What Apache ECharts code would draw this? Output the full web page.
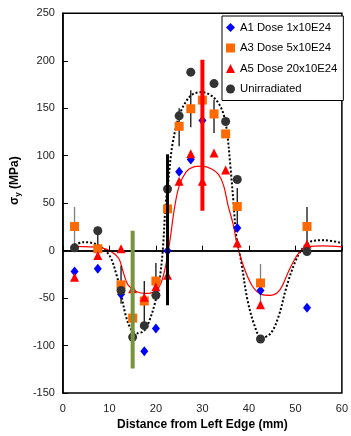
<!DOCTYPE html>
<html>
<head>
<meta charset="utf-8">
<script src="https://cdn.jsdelivr.net/npm/echarts@6/dist/echarts.min.js"></script>
<style>
  html, body { margin: 0; padding: 0; background: #fff; }
  #main { width: 351px; height: 436px; }
</style>
</head>
<body>
<div id="main"></div>
<script>
// measured points (mm, MPa)
const a1X = [2.5, 7.5, 12.5, 17.5, 20, 22.5, 25, 27.5, 30, 37.5, 42.5, 52.5];
const a1Y = [-22, -19, -46, -106, -82, 0, 83, 96, 137, 24, -42, -60];

const a3X = [2.5, 7.5, 12.5, 15, 17.5, 20, 22.5, 25, 27.5, 30, 32.5, 35, 37.5, 42.5, 52.5];
const a3Y = [25.5, 2, -36, -71, -53, -32, 44, 131, 149.5, 158.6, 144, 123, 46.5, -34, 25.5];

const a5X = [2.5, 7.5, 12.5, 15, 17.5, 20, 22.5, 25, 27.5, 30, 32.5, 35, 37.5, 42.5, 52.5];
const a5Y = [-28, -5, 2, -40, -49, -38, -26, 73, 102, 73, 103, 85, 8, -57, 7];

const uniX = [2.5, 7.5, 12.5, 15, 17.5, 20, 22.5, 25, 27.5, 32.5, 35, 37.5, 42.5, 52.5];
const uniY = [3, 21, -42, -91, -79, -47, 65, 142, 188, 176, 136, 75, -93, -1];

// fitted curves
const uniFitX = [2.5, 4.5, 7.5, 10, 11.5, 12.5, 13.5, 14.7, 16, 17.5, 18.5, 19.8, 20.8, 21.5, 22.1, 22.5, 23.5, 25, 26.6, 28, 30, 32, 33.5, 34.6, 35.3, 36, 36.7, 37.3, 38.3, 39.7, 41.3, 42.7, 44.7, 46.4, 48.1, 50.1, 51.8, 53.5, 56.2, 60];
const uniFitY = [6, 9, 6, -5, -25, -45, -68, -83, -87, -84, -75, -55, -30, 2, 50, 65, 110, 142, 158, 165, 167, 163, 155, 143, 125, 90, 50, 15, -10, -52, -80, -92, -87, -69, -38, -10, 4, 10, 11, 8];

const a5FitX = [2.5, 8.3, 10.4, 12, 13, 14, 15.8, 17.8, 19.8, 21.1, 22.1, 23, 24, 25, 26.5, 28, 30, 32, 33.5, 34.6, 35.5, 36.6, 37.5, 38.6, 40.7, 42.7, 44.7, 46.7, 48.7, 50.8, 52.8, 56, 60];
const a5FitY = [4.5, 3, -1, -8, -23, -36, -43, -45, -43, -34, -16, 10, 45, 68, 83, 88, 89, 86, 80, 68, 48, 28, 6, -13, -37, -46, -47, -41, -20, -2, 4, 5, 4];

// error bars: [x, low, high]
const errBlackX = [7.5, 12.5, 17.5, 20, 25, 27.5, 32.5, 37.5, 52.5];
const errBlackLo = [2, -56, -76, -47, 110, 130, 124, 24, 1];
const errBlackHi = [21, -16, -32, -13, 150, 169, 159, 66, 46];

const errGrayX = [2.5, 42.5];
const errGrayLo = [5, -57];
const errGrayHi = [46, -14];

const bigErrX = [15, 22.5, 30];
const bigErrLo = [-124, -57.5, 42];
const bigErrHi = [21, 101.5, 201];

const xTicks = [0, 10, 20, 30, 40, 50, 60];
const yTicks = [-150, -100, -50, 0, 50, 100, 150, 200, 250];

const bigErrColors = ['#77933c', '#000000', '#ff0000'];
const bigErrWidths = [4, 3, 4];

const pairs = (xs, ys) => xs.map((x, i) => [x, ys[i]]);
const triples = (xs, lo, hi) => xs.map((x, i) => [x, lo[i], hi[i]]);

const FONT = 'Liberation Sans, Arial, sans-serif';

const barItem = (colorFn, widthFn) => (params, api) => {
    const x = api.value(0);
    const p1 = api.coord([x, api.value(1)]);
    const p2 = api.coord([x, api.value(2)]);
    return {
        type: 'line',
        shape: { x1: p1[0], y1: p1[1], x2: p2[0], y2: p2[1] },
        style: { stroke: colorFn(params.dataIndex), lineWidth: widthFn(params.dataIndex) }
    };
};

var chartDom = document.getElementById('main');
var myChart = echarts.init(chartDom);

var option = {
    animation: false,
    grid: {
        left: 48.7,
        right: 5.3,
        top: 13.3,
        bottom: 41.7,
        show: true,
        borderColor: '#000',
        borderWidth: 1.5,
        backgroundColor: 'transparent'
    },
    legend: {
        orient: 'vertical',
        left: 222,
        top: 16,
        padding: [5, 6, 5, 4],
        backgroundColor: '#fff',
        borderColor: '#000',
        borderWidth: 1,
        itemWidth: 9,
        itemHeight: 9,
        itemGap: 7.5,
        itemTextGap: 3,
        textStyle: { fontFamily: FONT, fontSize: 11.3, color: '#000', lineHeight: 13 },
        data: [
            { name: 'A1 Dose 1x10E24', icon: 'diamond' },
            { name: 'A3 Dose 5x10E24', icon: 'rect' },
            { name: 'A5 Dose 20x10E24', icon: 'triangle' },
            { name: 'Unirradiated', icon: 'circle' }
        ]
    },
    xAxis: {
        type: 'value',
        min: xTicks[0],
        max: xTicks[xTicks.length - 1],
        interval: 10,
        name: 'Distance from Left Edge (mm)',
        nameLocation: 'middle',
        nameGap: 24,
        nameTextStyle: { fontFamily: FONT, fontSize: 12, fontWeight: 'bold', color: '#000' },
        axisLine: { show: true, lineStyle: { color: '#000', width: 1.5 } },
        axisTick: { show: true, inside: true, length: 5, lineStyle: { color: '#000' } },
        axisLabel: { fontFamily: FONT, fontSize: 11, color: '#222', margin: 10 },
        splitLine: { show: false }
    },
    yAxis: {
        type: 'value',
        min: yTicks[0],
        max: yTicks[yTicks.length - 1],
        interval: 50,
        name: '{s|σ}{sub|y}{s| (MPa)}',
        nameLocation: 'middle',
        nameGap: 23,
        nameTextStyle: {
            padding: [0, 0, 0, 45],
            rich: {
                s: { fontFamily: FONT, fontSize: 12, fontWeight: 'bold', color: '#000', lineHeight: 16 },
                sub: { fontFamily: FONT, fontSize: 8, fontWeight: 'bold', color: '#000', lineHeight: 16, padding: [6, 0, 0, 0] }
            }
        },
        axisLine: { show: true, lineStyle: { color: '#000', width: 1.5 } },
        axisTick: { show: true, inside: true, length: 5, lineStyle: { color: '#000' } },
        axisLabel: { fontFamily: FONT, fontSize: 11, color: '#222', margin: 8 },
        splitLine: { show: false }
    },
    series: [
        {
            name: 'zero',
            type: 'line',
            data: [],
            markLine: {
                silent: true,
                symbol: 'none',
                label: { show: false },
                lineStyle: { color: '#000', type: 'solid', width: 1.5 },
                data: [{ yAxis: 0 }]
            }
        },
        {
            name: 'uniFit',
            type: 'line',
            data: pairs(uniFitX, uniFitY),
            smooth: 0.35,
            showSymbol: false,
            z: 3,
            lineStyle: { color: '#000', width: 2, type: [2, 2] }
        },
        {
            name: 'a5Fit',
            type: 'line',
            data: pairs(a5FitX, a5FitY),
            smooth: 0.35,
            showSymbol: false,
            z: 3,
            lineStyle: { color: '#ff0000', width: 1.2 }
        },
        {
            name: 'errGray',
            type: 'custom',
            z: 4,
            encode: { x: 0, y: [1, 2] },
            renderItem: barItem(() => '#7f7f7f', () => 1.3),
            data: triples(errGrayX, errGrayLo, errGrayHi)
        },
        {
            name: 'errBlack',
            type: 'custom',
            z: 4,
            encode: { x: 0, y: [1, 2] },
            renderItem: barItem(() => '#111', () => 1.3),
            data: triples(errBlackX, errBlackLo, errBlackHi)
        },
        {
            name: 'A1 Dose 1x10E24',
            type: 'scatter',
            symbol: 'diamond',
            symbolSize: [8, 10],
            z: 5,
            itemStyle: { color: '#0000ff', opacity: 1 },
            data: pairs(a1X, a1Y)
        },
        {
            name: 'A3 Dose 5x10E24',
            type: 'scatter',
            symbol: 'rect',
            symbolSize: 9,
            z: 5,
            itemStyle: { color: '#ff6a00', opacity: 1 },
            data: pairs(a3X, a3Y)
        },
        {
            name: 'A5 Dose 20x10E24',
            type: 'scatter',
            symbol: 'triangle',
            symbolSize: 9,
            z: 5,
            itemStyle: { color: '#ff0000', opacity: 1 },
            data: pairs(a5X, a5Y)
        },
        {
            name: 'Unirradiated',
            type: 'scatter',
            symbol: 'circle',
            symbolSize: 9,
            z: 5,
            itemStyle: { color: '#333333', opacity: 1 },
            data: pairs(uniX, uniY)
        },
        {
            name: 'bigErr',
            type: 'custom',
            z: 6,
            encode: { x: 0, y: [1, 2] },
            renderItem: barItem((i) => bigErrColors[i], (i) => bigErrWidths[i]),
            data: triples(bigErrX, bigErrLo, bigErrHi)
        }
    ]
};

myChart.setOption(option);
</script>
</body>
</html>
